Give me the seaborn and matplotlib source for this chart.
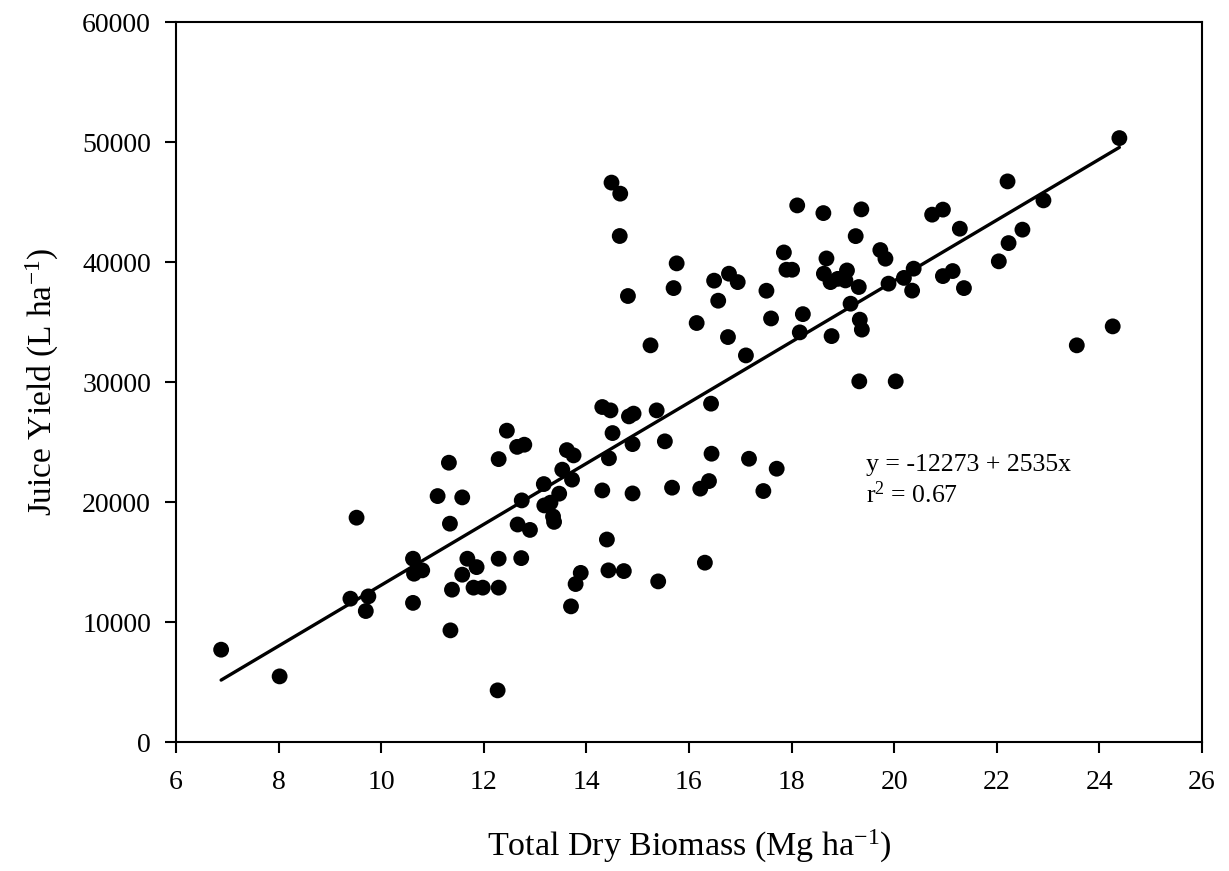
import numpy as np, pandas as pd
import seaborn as sns, matplotlib
matplotlib.use('Agg')
import matplotlib.pyplot as plt

# values
biomass = [6.88, 8.02, 9.40, 9.52, 9.70, 9.75, 10.62, 10.64, 10.80, 10.62,
           11.10, 11.32, 11.34, 11.58, 11.35, 11.38, 11.58, 11.68, 11.86, 11.80,
           11.98, 12.29, 12.27, 12.29, 12.29, 12.45, 12.65, 12.79, 12.66, 12.90,
           12.74, 12.73, 13.17, 13.18, 13.30, 13.35, 13.37, 13.47, 13.53, 13.62,
           13.75, 13.72, 13.70, 13.79, 13.89, 14.31, 14.47, 14.31, 14.40, 14.43,
           14.44, 14.49, 14.51, 14.65, 14.66, 14.73, 14.81, 14.83, 14.92, 14.90,
           14.90, 15.25, 15.37, 15.40, 15.53, 15.67, 15.70, 15.76, 16.15, 16.22,
           16.31, 16.39, 16.43, 16.44, 16.49, 16.57, 16.76, 16.78, 16.95, 17.11,
           17.17, 17.45, 17.51, 17.60, 17.71, 17.85, 17.90, 18.01, 18.11, 18.16,
           18.22, 18.62, 18.63, 18.68, 18.76, 18.78, 18.90, 19.05, 19.08, 19.15,
           19.25, 19.31, 19.32, 19.33, 19.36, 19.37, 19.73, 19.83, 19.89, 20.03,
           20.19, 20.35, 20.38, 20.74, 20.95, 20.95, 21.14, 21.28, 21.36, 22.04,
           22.21, 22.23, 22.50, 22.91, 23.56, 24.26, 24.39]
juice = [7700, 5475, 11950, 18700, 10920, 12140, 15280, 14030, 14310, 11600,
         20500, 23280, 18200, 20390, 9310, 12700, 13950, 15280, 14580, 12870,
         12870, 12870, 4310, 23580, 15280, 25950, 24600, 24780, 18130, 17680,
         20140, 15330, 21500, 19720, 19950, 18800, 18350, 20700, 22700, 24330,
         23890, 21870, 11310, 13170, 14100, 27920, 27640, 20970, 16880, 14310,
         23650, 46620, 25750, 42170, 45700, 14250, 37170, 27140, 27370, 24830,
         20720, 33060, 27640, 13390, 25060, 21200, 37830, 39890, 34920, 21120,
         14950, 21750, 28200, 24030, 38450, 36780, 33750, 39030, 38330, 32220,
         23610, 20920, 37610, 35300, 22780, 40800, 39360, 39360, 44720, 34140,
         35660, 44080, 39030, 40300, 38330, 33830, 38600, 38470, 39300, 36530,
         42160, 37920, 30060, 35200, 44390, 34370, 41000, 40280, 38200, 30060,
         38680, 37620, 39450, 43950, 44370, 38830, 39250, 42780, 37830, 40060,
         46720, 41580, 42700, 45140, 33060, 34640, 50330]

intercept, slope = -12273, 2535
eq_text = 'y = -12273 + 2535x'
r2_text = 'r$^{2}$ = 0.67'
x_ticks = np.arange(6, 27, 2)
y_ticks = np.arange(0, 60001, 10000)

df = pd.DataFrame({'biomass': biomass, 'juice': juice})
fit = pd.DataFrame({'biomass': [min(biomass), max(biomass)]})
fit['juice'] = intercept + slope * fit['biomass']

sns.set_theme(style='ticks')
plt.rcParams['font.family'] = ['Liberation Serif', 'DejaVu Serif']
plt.rcParams['mathtext.default'] = 'regular'
plt.rcParams['axes.linewidth'] = 1.5
for k in ['text.color', 'axes.labelcolor', 'xtick.color', 'ytick.color', 'axes.edgecolor']:
    plt.rcParams[k] = 'black'

fig = plt.figure(figsize=(12.29, 8.71), dpi=100)
ax = fig.add_axes([0.1432, 0.148, 0.8348, 0.8267])

sns.scatterplot(data=df, x='biomass', y='juice', ax=ax, color='black',
                s=130, edgecolor='none', linewidth=0, zorder=3)
sns.lineplot(data=fit, x='biomass', y='juice', ax=ax, color='black', linewidth=2.4, zorder=2)

ax.set_xlim(6, 26)
ax.set_ylim(0, 60000)
ax.set_xticks(x_ticks)
ax.set_yticks(y_ticks)
ax.tick_params(axis='both', direction='out', length=8, width=1.5, labelsize=20)
ax.tick_params(axis='x', pad=12)
ax.tick_params(axis='y', pad=10)

ax.set_xlabel('Total Dry Biomass (Mg ha$^{-1}$)', fontsize=24.5, labelpad=24)
ax.set_ylabel('Juice Yield (L ha$^{-1}$)', fontsize=24, labelpad=15)

ax.text(19.46, 23100, eq_text, fontsize=18.5, ha='left', va='center')
ax.text(19.46, 20600, r2_text, fontsize=18.5, ha='left', va='center')

fig.savefig('out.png', dpi=100)
